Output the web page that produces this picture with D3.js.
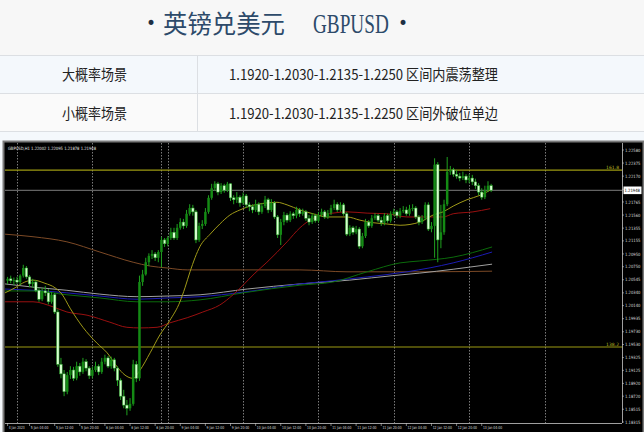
<!DOCTYPE html>
<html><head><meta charset="utf-8">
<script src="https://cdn.jsdelivr.net/npm/d3@7"></script>
<style>html,body{margin:0;padding:0;background:#fff;}svg{display:block;}</style>
</head><body>
<svg id="c" width="644" height="432"></svg>
<script>
// ---------- data ----------
const titleCn = "英镑兑美元";
const titleEn = "GBPUSD";
const scenarioNames = ["大概率场景", "小概率场景"];
const scenarioLevels = ["1.1920-1.2030-1.2135-1.2250", "1.1920-1.2030-1.2135-1.2250"];
const scenarioTexts = ["区间内震荡整理", "区间外破位单边"];
const chartHeader = "GBPUSD,H1  1.22002 1.22095 1.21878 1.21948";

const opens = [1.2053,1.2056,1.2053,1.2054,1.2051,1.2061,1.2073,1.2059,1.2048,1.2051,
1.2038,1.2024,1.2037,1.2034,1.2020,1.2031,1.2004,1.1922,1.1907,1.1879,
1.1905,1.1913,1.1900,1.1919,1.1910,1.1926,1.1916,1.1904,1.1913,1.1919,
1.1910,1.1926,1.1932,1.1919,1.1929,1.1916,1.1897,1.1872,1.1858,1.1853,
1.1860,1.1922,1.1900,1.2051,1.2063,1.2082,1.2092,1.2095,1.2089,1.2098,
1.2117,1.2111,1.2120,1.2129,1.2120,1.2136,1.2145,1.2139,1.2158,1.2167,
1.2161,1.2117,1.2139,1.2142,1.2161,1.2183,1.2198,1.2205,1.2192,1.2202,
1.2195,1.2205,1.2183,1.2180,1.2184,1.2175,1.2186,1.2172,1.2169,1.2164,
1.2173,1.2161,1.2170,1.2180,1.2164,1.2175,1.2153,1.2125,1.2145,1.2156,
1.2148,1.2158,1.2155,1.2164,1.2158,1.2161,1.2151,1.2145,1.2155,1.2147,
1.2156,1.2161,1.2153,1.2159,1.2167,1.2173,1.2164,1.2172,1.2158,1.2126,
1.2136,1.2129,1.2134,1.2107,1.2123,1.2145,1.2139,1.2151,1.2155,1.2148,
1.2144,1.2155,1.2147,1.2158,1.2161,1.2155,1.2162,1.2164,1.2158,1.2166,
1.2167,1.2153,1.2145,1.2151,1.2172,1.2134,1.2139,1.2235,1.2117,1.2129,
1.2173,1.2224,1.2227,1.2220,1.2217,1.2214,1.2217,1.2211,1.2214,1.2208,
1.2202,1.2192,1.2184,1.2195,1.2202];
const highs = [1.2059,1.2061,1.2058,1.2059,1.2063,1.2078,1.2076,1.2062,1.2056,1.2054,
1.2042,1.2042,1.2045,1.2040,1.2035,1.2034,1.2008,1.1932,1.1913,1.1910,
1.1919,1.1918,1.1926,1.1924,1.1932,1.1930,1.1919,1.1918,1.1926,1.1922,
1.1932,1.1937,1.1935,1.1934,1.1932,1.1919,1.1900,1.1882,1.1866,1.1869,
1.1929,1.1927,1.2061,1.2070,1.2089,1.2096,1.2101,1.2098,1.2101,1.2122,
1.2120,1.2123,1.2136,1.2136,1.2142,1.2151,1.2150,1.2164,1.2173,1.2172,
1.2164,1.2144,1.2148,1.2167,1.2187,1.2205,1.2209,1.2208,1.2206,1.2205,
1.2208,1.2206,1.2187,1.2192,1.2187,1.2191,1.2189,1.2176,1.2173,1.2180,
1.2176,1.2175,1.2186,1.2183,1.2181,1.2178,1.2156,1.2150,1.2161,1.2159,
1.2162,1.2161,1.2169,1.2167,1.2166,1.2164,1.2156,1.2159,1.2158,1.2161,
1.2166,1.2164,1.2164,1.2172,1.2180,1.2176,1.2176,1.2175,1.2161,1.2140,
1.2139,1.2139,1.2137,1.2128,1.2150,1.2148,1.2156,1.2159,1.2158,1.2153,
1.2159,1.2158,1.2162,1.2166,1.2164,1.2167,1.2170,1.2169,1.2172,1.2173,
1.2170,1.2156,1.2156,1.2176,1.2176,1.2145,1.2245,1.2239,1.2172,1.2180,
1.2247,1.2233,1.2230,1.2227,1.2222,1.2224,1.2220,1.2220,1.2219,1.2213,
1.2206,1.2198,1.2202,1.2209,1.2205];
const lows = [1.2048,1.2049,1.2046,1.2048,1.2046,1.2058,1.2056,1.2043,1.2042,1.2035,
1.2020,1.2021,1.2029,1.2016,1.2017,1.2001,1.1918,1.1900,1.1872,1.1875,
1.1899,1.1896,1.1897,1.1904,1.1907,1.1911,1.1899,1.1900,1.1910,1.1905,
1.1907,1.1922,1.1916,1.1915,1.1911,1.1888,1.1866,1.1853,1.1842,1.1849,
1.1857,1.1894,1.1896,1.2045,1.2061,1.2076,1.2087,1.2084,1.2082,1.2074,
1.2106,1.2107,1.2117,1.2117,1.2117,1.2133,1.2134,1.2136,1.2155,1.2155,
1.2112,1.2114,1.2134,1.2139,1.2158,1.2180,1.2194,1.2187,1.2189,1.2191,
1.2192,1.2178,1.2173,1.2175,1.2169,1.2172,1.2167,1.2162,1.2159,1.2161,
1.2156,1.2158,1.2167,1.2159,1.2161,1.2150,1.2120,1.2109,1.2140,1.2144,
1.2145,1.2150,1.2151,1.2153,1.2155,1.2147,1.2140,1.2142,1.2144,1.2144,
1.2153,1.2150,1.2150,1.2156,1.2164,1.2161,1.2161,1.2155,1.2123,1.2123,
1.2125,1.2126,1.2103,1.2104,1.2120,1.2136,1.2136,1.2148,1.2145,1.2139,
1.2140,1.2144,1.2144,1.2155,1.2151,1.2151,1.2159,1.2155,1.2155,1.2162,
1.2150,1.2140,1.2142,1.2148,1.2131,1.2129,1.2089,1.2082,1.2104,1.2125,
1.2170,1.2219,1.2216,1.2213,1.2209,1.2211,1.2206,1.2206,1.2203,1.2197,
1.2187,1.2180,1.2181,1.2192,1.2192];
const closes = [1.2056,1.2053,1.2054,1.2051,1.2061,1.2073,1.2059,1.2048,1.2051,1.2038,
1.2024,1.2037,1.2034,1.2020,1.2031,1.2004,1.1922,1.1907,1.1879,1.1905,
1.1913,1.1900,1.1919,1.1910,1.1926,1.1916,1.1904,1.1913,1.1919,1.1910,
1.1926,1.1932,1.1919,1.1929,1.1916,1.1897,1.1872,1.1858,1.1853,1.1860,
1.1922,1.1900,1.2051,1.2063,1.2082,1.2092,1.2095,1.2089,1.2098,1.2117,
1.2111,1.2120,1.2129,1.2120,1.2136,1.2145,1.2139,1.2158,1.2167,1.2161,
1.2117,1.2139,1.2142,1.2161,1.2183,1.2198,1.2205,1.2192,1.2202,1.2195,
1.2205,1.2183,1.2180,1.2184,1.2175,1.2186,1.2172,1.2169,1.2164,1.2173,
1.2161,1.2170,1.2180,1.2164,1.2175,1.2153,1.2125,1.2145,1.2156,1.2148,
1.2158,1.2155,1.2164,1.2158,1.2161,1.2151,1.2145,1.2155,1.2147,1.2156,
1.2161,1.2153,1.2159,1.2167,1.2173,1.2164,1.2172,1.2158,1.2126,1.2136,
1.2129,1.2134,1.2107,1.2123,1.2145,1.2139,1.2151,1.2155,1.2148,1.2144,
1.2155,1.2147,1.2158,1.2161,1.2155,1.2162,1.2164,1.2158,1.2166,1.2167,
1.2153,1.2145,1.2151,1.2172,1.2134,1.2139,1.2235,1.2117,1.2129,1.2173,
1.2224,1.2227,1.2220,1.2217,1.2214,1.2217,1.2211,1.2214,1.2208,1.2202,
1.2192,1.2184,1.2195,1.2202,1.2195];

// moving averages: [bar index, price]
const maFast = [[-0.8,1.2034],[2.4,1.2042],[5.5,1.2051],[8.1,1.2054],[11.9,1.2049],[15.1,1.2042],[17.3,1.2032],[19.9,1.2010],[24.0,1.1980],[28.5,1.1955],[31.7,1.1940],[34.9,1.1918],[37.4,1.1905],[39.9,1.1900],[42.2,1.1913],[45.4,1.1940],[48.5,1.1968],[51.7,1.1991],[54.9,1.2020],[56.5,1.2042],[58.1,1.2067],[61.3,1.2107],[64.5,1.2126],[67.6,1.2142],[70.8,1.2156],[74.0,1.2164],[77.2,1.2170],[82.6,1.2175],[85.8,1.2176],[89.0,1.2172],[93.1,1.2164],[97.3,1.2158],[101.7,1.2153],[108.1,1.2153],[112.2,1.2148],[116.4,1.2144],[120.8,1.2142],[125.0,1.2140],[131.3,1.2145],[135.5,1.2156],[138.7,1.2161],[141.9,1.2170],[146.3,1.2180],[150.5,1.2187],[153.7,1.2195]];
const maRed = [[-0.8,1.2020],[8.1,1.2020],[14.5,1.2012],[18.9,1.2004],[25.3,1.1999],[32.6,1.1988],[38.0,1.1980],[42.2,1.1979],[47.6,1.1980],[51.7,1.1987],[57.2,1.1995],[62.2,1.2004],[67.6,1.2015],[71.8,1.2031],[75.0,1.2046],[78.8,1.2065],[82.6,1.2082],[89.0,1.2114],[93.1,1.2136],[96.3,1.2148],[99.5,1.2155],[103.6,1.2159],[108.1,1.2161],[114.5,1.2159],[120.8,1.2158],[127.2,1.2153],[138.7,1.2153],[141.9,1.2158],[148.2,1.2161],[153.7,1.2166]];
const maGreen = [[-0.8,1.2037],[8.1,1.2037],[18.9,1.2031],[29.4,1.2026],[41.2,1.2020],[50.8,1.2020],[61.3,1.2023],[75.0,1.2034],[93.1,1.2046],[103.6,1.2051],[114.5,1.2067],[125.0,1.2081],[131.3,1.2084],[141.9,1.2090],[154.3,1.2106]];
const maBlue = [[-0.8,1.2040],[8.1,1.2038],[18.9,1.2034],[29.4,1.2029],[41.2,1.2024],[50.8,1.2026],[61.3,1.2028],[75.0,1.2035],[93.1,1.2048],[103.6,1.2053],[114.5,1.2059],[127.2,1.2067],[141.9,1.2081],[154.3,1.2098]];
const maGray = [[-0.8,1.2048],[8.1,1.2043],[18.9,1.2038],[29.4,1.2032],[41.2,1.2028],[50.8,1.2029],[61.3,1.2031],[76.3,1.2040],[93.1,1.2048],[109.0,1.2054],[122.7,1.2061],[131.3,1.2065],[141.9,1.2071],[154.3,1.2079]];
const maBrown = [[-0.8,1.2126],[8.1,1.2122],[18.9,1.2114],[29.4,1.2098],[40.0,1.2082],[45.4,1.2076],[50.8,1.2073],[57.2,1.2070],[93.1,1.2070],[108.1,1.2067],[131.3,1.2067],[154.3,1.2068]];

const fibLevels = [{name:"161.8", value:1.22266},{name:"138.2", value:1.19491}];
const currentPrice = 1.21948;
const priceTicks = [1.22580,1.22375,1.22170,1.21965,1.21765,1.21560,1.21355,1.21155,1.20950,1.20750,1.20545,1.20340,1.20140,1.19935,1.19730,1.19530,1.19325,1.19125,1.18920,1.18720,1.18515,1.18315];
const timeTickBars = [0,7,15,23,31,39,47,55,63,71,79,87,95,103,111,119,127,135,143,151];
const timeTickLabels = ["4 Jan 2023","5 Jan 04:00","5 Jan 12:00","5 Jan 20:00","6 Jan 04:00","6 Jan 12:00","6 Jan 20:00","9 Jan 04:00","9 Jan 12:00","9 Jan 20:00","10 Jan 04:00","10 Jan 12:00","10 Jan 20:00","11 Jan 04:00","11 Jan 12:00","11 Jan 20:00","12 Jan 04:00","12 Jan 12:00","12 Jan 20:00","13 Jan 04:00"];
const separatorBars = [3,27,49,51,75,99,123,147,171];

// ---------- drawing ----------
const svg = d3.select("#c");
const cjk = "'Noto Sans CJK SC','Noto Sans',sans-serif";
const small = "'DejaVu Sans',sans-serif";

// header & table backgrounds
svg.append("rect").attr("x",0).attr("y",0).attr("width",644).attr("height",55).attr("fill","#f7f7f7");
svg.append("rect").attr("x",0).attr("y",55).attr("width",644).attr("height",38).attr("fill","#f4f8fc");
svg.append("rect").attr("x",0).attr("y",93).attr("width",644).attr("height",38).attr("fill","#fafafa");
svg.append("rect").attr("x",0).attr("y",131).attr("width",644).attr("height",301).attr("fill","#f4f8fc");
[55.5,93.5,131.5].forEach(yy=>svg.append("line").attr("x1",0).attr("x2",644).attr("y1",yy).attr("y2",yy).attr("stroke","#dcdfe3"));
svg.append("line").attr("x1",197.5).attr("x2",197.5).attr("y1",55).attr("y2",131).attr("stroke","#dcdfe3");

// title
const tc = "#2d4a6a";
svg.append("text").attr("x",151).attr("y",28.5).attr("text-anchor","middle").attr("font-size",17).attr("fill","#1e2f44").attr("font-family",small).text("•");
svg.append("text").attr("x",163).attr("y",33).attr("font-size",25).attr("fill",tc).attr("font-family",cjk)
  .attr("textLength",122).attr("lengthAdjust","spacingAndGlyphs").text(titleCn);
svg.append("text").attr("transform","translate(313,33) scale(0.96,1.4)").attr("font-size",20).attr("fill",tc)
  .attr("font-family","'Liberation Serif',serif").text(titleEn);
svg.append("text").attr("x",403).attr("y",28.5).attr("text-anchor","middle").attr("font-size",17).attr("fill","#1e2f44").attr("font-family",small).text("•");

// table rows
const rowY = [73.5, 112];
scenarioNames.forEach((n,k)=>{
  svg.append("text").attr("x",62).attr("y",rowY[k]).attr("dominant-baseline","central").attr("font-size",14.5)
    .attr("fill","#222").attr("font-family",cjk).attr("textLength",65).attr("lengthAdjust","spacingAndGlyphs").text(n);
  svg.append("text").attr("x",229).attr("y",rowY[k]).attr("dominant-baseline","central").attr("font-size",14.5)
    .attr("fill","#222").attr("font-family",cjk).attr("textLength",269).attr("lengthAdjust","spacingAndGlyphs")
    .text(scenarioLevels[k] + " " + scenarioTexts[k]);
});

// chart frame
const P = {l:5, r:622, t:143, b:423};
svg.append("rect").attr("x",3).attr("y",141).attr("width",640).attr("height",291).attr("fill","#000");
svg.append("rect").attr("x",3.5).attr("y",141.5).attr("width",640).attr("height",292).attr("fill","none").attr("stroke","#7a7a7a").attr("stroke-width",2);

const x = d3.scaleLinear().domain([0,154]).range([7.58, 7.58+154*3.14]);
const y = d3.scaleLinear().domain([1.18315,1.22580]).range([422,150]);

svg.append("clipPath").attr("id","pc").append("rect").attr("x",P.l).attr("y",P.t).attr("width",P.r-P.l).attr("height",P.b-P.t);
const g = svg.append("g").attr("clip-path","url(#pc)");

// separators
g.selectAll("line.sep").data(separatorBars).join("line").attr("class","sep")
  .attr("x1",d=>Math.round(x(d))+0.5).attr("x2",d=>Math.round(x(d))+0.5).attr("y1",P.t).attr("y2",P.b)
  .attr("stroke","#9a9a9a").attr("stroke-width",0.8).attr("stroke-dasharray","1.5,1.5");

// fib lines
fibLevels.forEach(f=>{
  const yy = y(f.value);
  g.append("line").attr("x1",P.l).attr("x2",P.r).attr("y1",yy).attr("y2",yy).attr("stroke","#9c9a12").attr("stroke-width",1.2);
  g.append("text").attr("x",P.r-3).attr("y",yy-1).attr("text-anchor","end").attr("font-size",4.5).attr("fill","#b8b420")
    .attr("font-family",small).text(f.name);
});
// current price line
g.append("line").attr("x1",P.l).attr("x2",P.r).attr("y1",y(currentPrice)).attr("y2",y(currentPrice)).attr("stroke","#8a8a8a").attr("stroke-width",0.9);

// moving averages
const line = d3.line().x(d=>x(d[0])).y(d=>y(d[1])).curve(d3.curveMonotoneX);
[[maBrown,"#7d4a26"],[maGray,"#a0a0a0"],[maBlue,"#1c1cb4"],[maGreen,"#0b6b0b"],[maRed,"#9a1010"],[maFast,"#a09a18"]].forEach(([d,c])=>{
  g.append("path").attr("d",line(d)).attr("fill","none").attr("stroke",c).attr("stroke-width",1);
});

// candles
const idx = d3.range(closes.length);
g.selectAll("line.wick").data(idx).join("line").attr("class","wick")
  .attr("x1",i=>x(i)).attr("x2",i=>x(i)).attr("y1",i=>y(highs[i])).attr("y2",i=>y(lows[i]))
  .attr("stroke","#1fa01f").attr("stroke-width",1);
g.selectAll("rect.body").data(idx).join("rect").attr("class","body")
  .attr("x",i=>x(i)-1.25).attr("width",2.5)
  .attr("y",i=>y(Math.max(opens[i],closes[i])))
  .attr("height",i=>Math.max(1,Math.abs(y(opens[i])-y(closes[i]))))
  .attr("fill",i=>closes[i]>=opens[i]?"#148a14":"#d6ffcf")
  .attr("stroke",i=>closes[i]>=opens[i]?"none":"#2aa52a").attr("stroke-width",0.5);

// header text
svg.append("text").attr("x",8).attr("y",150).attr("font-size",4.4).attr("fill","#e8e8e8")
  .attr("font-family",small).attr("textLength",88).attr("lengthAdjust","spacingAndGlyphs").text(chartHeader);

// axes lines
svg.append("line").attr("x1",P.r+0.5).attr("x2",P.r+0.5).attr("y1",P.t).attr("y2",P.b).attr("stroke","#c8c8c8").attr("stroke-width",0.8);
svg.append("line").attr("x1",P.l).attr("x2",P.r).attr("y1",P.b+0.5).attr("y2",P.b+0.5).attr("stroke","#c8c8c8").attr("stroke-width",0.8);

// price axis
const pa = svg.append("g");
pa.selectAll("line").data(priceTicks).join("line").attr("x1",P.r).attr("x2",P.r+2).attr("y1",d=>y(d)).attr("y2",d=>y(d)).attr("stroke","#c8c8c8").attr("stroke-width",0.6);
pa.selectAll("text").data(priceTicks).join("text").attr("x",P.r+3).attr("y",d=>y(d)+1.6).attr("font-size",4.4).attr("fill","#dcdcdc")
  .attr("font-family",small).attr("textLength",15.5).attr("lengthAdjust","spacingAndGlyphs").text(d=>d.toFixed(5));
const cy = y(currentPrice);
svg.append("rect").attr("x",P.r+1.5).attr("y",cy-3.8).attr("width",18).attr("height",7.6).attr("fill","#fff");
svg.append("text").attr("x",P.r+2.5).attr("y",cy+1.6).attr("font-size",4.4).attr("fill","#000").attr("font-family",small)
  .attr("textLength",15.5).attr("lengthAdjust","spacingAndGlyphs").text(currentPrice.toFixed(5));

// time axis
const ta = svg.append("g");
ta.selectAll("line").data(timeTickBars).join("line").attr("x1",d=>x(d)).attr("x2",d=>x(d)).attr("y1",P.b).attr("y2",P.b+3).attr("stroke","#c8c8c8").attr("stroke-width",0.6);
ta.selectAll("text").data(timeTickBars).join("text").attr("x",d=>x(d)+1.2).attr("y",P.b+6).attr("font-size",4).attr("fill","#dcdcdc")
  .attr("font-family",small).attr("textLength",(d,i)=>timeTickLabels[i].length*1.6).attr("lengthAdjust","spacingAndGlyphs")
  .text((d,i)=>timeTickLabels[i]);
</script>
</body></html>
